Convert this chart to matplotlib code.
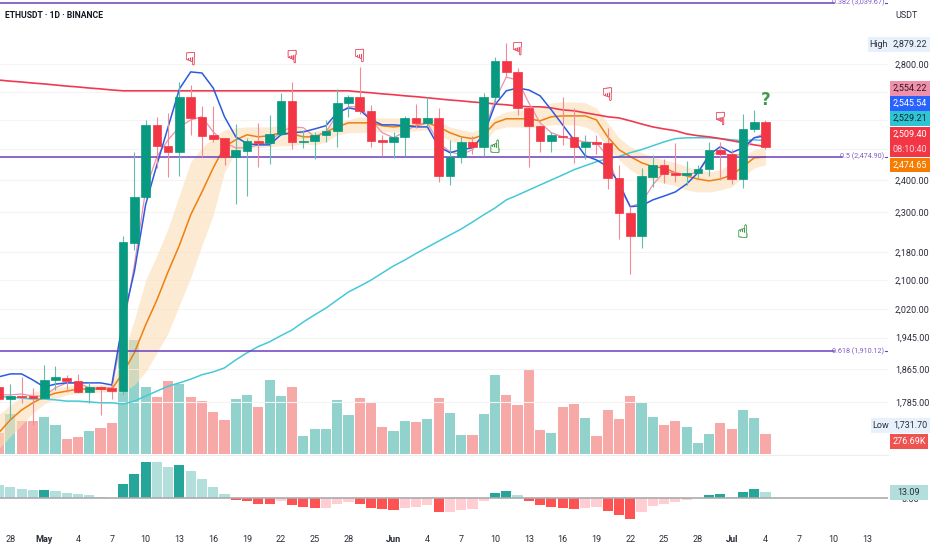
import matplotlib
matplotlib.use('Agg')
import matplotlib.pyplot as plt
import matplotlib.dates as mdates
import matplotlib.patheffects as pe
from matplotlib.patches import Rectangle
import numpy as np
import pandas as pd

plt.rcParams['font.family'] = ['Liberation Sans Narrow', 'Roboto', 'DejaVu Sans']

dates = pd.date_range('2025-04-27', periods=69)

opens = [1821, 1792, 1799, 1799,
         1794, 1838, 1843, 1836, 1809, 1821, 1819, 1811, 2206, 2346, 2583, 2512, 2492, 2682, 2611, 2549, 2539, 2476, 2495, 2529, 2522, 2552, 2667, 2525, 2529, 2549, 2563, 2660, 2682, 2632, 2532,
         2525, 2542, 2607, 2590, 2607, 2413, 2476, 2525, 2509, 2682, 2812, 2772, 2642, 2580, 2529, 2546, 2542, 2509, 2525, 2522, 2406, 2297, 2227, 2410, 2449, 2423, 2416, 2423, 2436, 2499,
         2485, 2403, 2569, 2593]
highs = [1838, 1828, 1846, 1819,
         1876, 1873, 1851, 1853, 1833, 1823, 1831, 2227, 2492, 2600, 2611, 2625, 2735, 2724, 2649, 2649, 2539, 2586, 2539, 2590, 2618, 2696, 2735, 2566, 2559, 2600, 2710, 2689, 2790, 2653, 2549,
         2559, 2614, 2656, 2682, 2642, 2532, 2542, 2546, 2696, 2828, 2879.22, 2786, 2646, 2582, 2559, 2682, 2642, 2549, 2549, 2573, 2449, 2319, 2439, 2482, 2469, 2522, 2462, 2449, 2525, 2525,
         2502, 2621, 2635, 2600]
lows = [1778, 1743, 1783, 1731.70,
        1794, 1814, 1809, 1806, 1783, 1755, 1792, 1805, 2185, 2340, 2439, 2410, 2413, 2549, 2476, 2525, 2449, 2325, 2349, 2443, 2452, 2549, 2502, 2505, 2469, 2525, 2509, 2611, 2621, 2509, 2479,
        2472, 2479, 2573, 2580, 2394, 2384, 2456, 2485, 2479, 2660, 2753, 2618, 2443, 2492, 2492, 2515, 2456, 2469, 2485, 2371, 2218, 2116, 2191, 2378, 2390, 2394, 2384, 2406, 2413, 2400,
        2387, 2374, 2559, 2502]
closes = [1792, 1799, 1797, 1794,
          1838, 1846, 1836, 1809, 1821, 1816, 1811, 2209, 2346, 2583, 2512, 2492, 2682, 2607, 2546, 2536, 2476, 2499, 2529, 2522, 2552, 2667, 2525, 2529, 2549, 2563, 2660, 2682, 2632, 2529, 2525,
          2542, 2607, 2590, 2607, 2413, 2476, 2525, 2509, 2682, 2812, 2772, 2642, 2580, 2529, 2549, 2542, 2509, 2525, 2519, 2406, 2297, 2227, 2413, 2449, 2419, 2416, 2423, 2436, 2499, 2485,
          2403, 2569, 2593, 2509.40]

# moyennes
ma_blue = [1846, 1853, 1853, 1838,
           1821, 1828, 1831, 1831, 1831, 1831, 1826, 1991, 2124, 2322, 2449, 2576, 2710, 2772, 2768, 2713, 2611, 2542, 2519, 2515, 2515, 2549, 2556, 2559, 2569, 2580, 2625, 2642, 2635, 2600, 2583,
           2583, 2580, 2576, 2576, 2509, 2489, 2499, 2505, 2549, 2653, 2703, 2713, 2706, 2685, 2635, 2583, 2532, 2479, 2465, 2443, 2390, 2316, 2319, 2337, 2349, 2362, 2387, 2423, 2482, 2509,
           2489, 2505, 2539, 2545.54]
ma_pink = [1802, 1802, 1804, 1799,
           1799, 1819, 1831, 1831, 1819, 1819, 1819, 1965, 2142, 2368, 2476, 2532, 2576, 2600, 2611, 2559, 2522, 2505, 2505, 2515, 2525, 2559, 2576, 2573, 2542, 2559, 2618, 2646, 2646, 2600, 2556,
           2539, 2559, 2583, 2590, 2522, 2492, 2482, 2499, 2556, 2670, 2753, 2742, 2660, 2590, 2556, 2542, 2532, 2525, 2522, 2476, 2378, 2316, 2328, 2384, 2426, 2423, 2416, 2426, 2472, 2499,
           2472, 2489, 2539, 2554.22]
ma_orange = [1714, 1743, 1766, 1783,
             1797, 1806, 1811, 1816, 1816, 1816, 1816, 1856, 1906, 1978, 2045, 2124, 2200, 2291, 2362, 2439, 2509, 2532, 2549, 2542, 2546, 2556, 2552, 2542, 2542, 2559, 2576, 2590, 2590, 2590, 2580,
             2576, 2580, 2580, 2590, 2576, 2556, 2542, 2536, 2549, 2590, 2604, 2604, 2604, 2597, 2611, 2614, 2614, 2614, 2600, 2542, 2499, 2476, 2456, 2443, 2439, 2423, 2413, 2403, 2397, 2403,
             2416, 2443, 2472, 2474.65]
ma_cyan = [1797, 1797, 1794, 1792,
           1792, 1790, 1787, 1787, 1785, 1783, 1783, 1780, 1787, 1799, 1811, 1823, 1831, 1840, 1851, 1858, 1868, 1888, 1906, 1922, 1934, 1950, 1965, 1986, 2005, 2023, 2045, 2067, 2083, 2100, 2120,
           2140, 2157, 2176, 2194, 2212, 2230, 2248, 2269, 2291, 2312, 2337, 2352, 2368, 2384, 2400, 2416, 2433, 2446, 2459, 2469, 2476, 2489, 2499, 2512, 2525, 2536, 2539, 2539, 2539, 2536,
           2532, 2529, 2532, 2529.21]
ma_red = [2742, 2738, 2735, 2731,
          2728, 2724, 2720, 2717, 2713, 2710, 2706, 2703, 2703, 2703, 2703, 2703, 2703, 2703, 2703, 2703, 2703, 2703, 2703, 2703, 2703, 2703, 2703, 2703, 2703, 2703, 2703, 2703, 2699, 2696, 2692,
          2689, 2685, 2682, 2678, 2674, 2670, 2667, 2663, 2660, 2656, 2653, 2649, 2646, 2646, 2642, 2635, 2632, 2625, 2618, 2611, 2607, 2597, 2586, 2576, 2569, 2563, 2552, 2546, 2542, 2536,
          2529, 2522, 2515, 2509.40]
band_hi = [1755, 1778, 1797, 1809,
           1814, 1819, 1823, 1826, 1826, 1826, 1828, 1901, 1991, 2100, 2170, 2251, 2352, 2459, 2505, 2539, 2566, 2573, 2576, 2576, 2576, 2583, 2583, 2566, 2559, 2573, 2593, 2600, 2611, 2607, 2607,
           2607, 2607, 2607, 2611, 2593, 2576, 2566, 2559, 2576, 2611, 2628, 2635, 2635, 2646, 2660, 2663, 2663, 2660, 2642, 2590, 2539, 2509, 2489, 2476, 2465, 2456, 2443, 2433, 2426, 2433,
           2456, 2476, 2499, 2505]
band_lo = [1678, 1705, 1731, 1759,
           1780, 1794, 1802, 1806, 1806, 1809, 1809, 1809, 1826, 1858, 1906, 1957, 2031, 2107, 2200, 2291, 2426, 2492, 2505, 2505, 2509, 2512, 2512, 2519, 2515, 2525, 2549, 2556, 2556, 2559, 2559,
           2559, 2559, 2563, 2566, 2549, 2529, 2515, 2509, 2522, 2566, 2576, 2576, 2573, 2576, 2583, 2583, 2583, 2576, 2556, 2509, 2465, 2433, 2410, 2400, 2390, 2381, 2368, 2362, 2362, 2368,
           2378, 2410, 2439, 2449]

volumes = [294, 565, 460, 460,
           520, 400, 210, 240, 325, 370, 440, 1450, 1590, 935, 795, 1025, 985, 795, 745, 585, 480, 775, 825, 655, 1040, 815, 935, 250, 350, 350, 760, 540, 785, 735, 380,
           320, 460, 450, 490, 790, 575, 265, 265, 565, 1105, 830, 690, 1170, 330, 295, 665, 705, 505, 255, 620, 490, 815, 725, 515, 410, 460, 375, 160, 285, 440,
           345, 620, 505, 276.69]
hist = [28, 25, 20, 17,
        17, 15, 12, 8, 6, 2, 1, 31, 53, 79, 78, 68, 71, 60, 41, 25, 8, -3.6, -7, -12, -14, -6, -15, -20, -22, -21, -14, -9, -12, -21, -25,
        -27, -21, -20, -16, -31, -31, -27, -23, -7, 12, 16, 6, -7, -16, -20, -21, -23, -21, -19, -28, -37, -46, -30, -18, -12, -8, -4, -1, 6, 8,
        2, 13, 19, 13.09]

price_ticks = [2800, 2700, 2600, 2500, 2400, 2300, 2180, 2100, 2020, 1945, 1865, 1785]
hidden_ticks = [2700, 2600, 2500]  # sous les etiquettes colorees
tick_dates = ['2025-04-28', '2025-05-01', '2025-05-04', '2025-05-07', '2025-05-10', '2025-05-13', '2025-05-16',
              '2025-05-19', '2025-05-22', '2025-05-25', '2025-05-28', '2025-06-01', '2025-06-04', '2025-06-07',
              '2025-06-10', '2025-06-13', '2025-06-16', '2025-06-19', '2025-06-22', '2025-06-25', '2025-06-28',
              '2025-07-01', '2025-07-04', '2025-07-07', '2025-07-10', '2025-07-13']
tick_labels = ['28', 'May', '4', '7', '10', '13', '16', '19', '22', '25', '28', 'Jun', '4', '7', '10', '13', '16',
               '19', '22', '25', '28', 'Jul', '4', '7', '10', '13']

fib_levels = [3039.67, 2474.90, 1910.12]
fib_names = ['0.382 (3,039.67)', '0.5 (2,474.90)', '0.618 (1,910.12)']

sell_days = ['2025-05-14', '2025-05-23', '2025-05-29', '2025-06-12', '2025-06-20', '2025-06-30']
sell_prices = [2816, 2824, 2828, 2854, 2686, 2600]
buy_days = ['2025-06-10', '2025-07-02']
buy_prices = [2505, 2237]

W, H = 932, 550
PANE_W = 888
FS = 6.5
fig = plt.figure(figsize=(W / 100, H / 100), dpi=100, facecolor='white')


def pane(top, bottom):
    return fig.add_axes([0, 1 - bottom / H, PANE_W / W, (bottom - top) / H])


def fig_x(px):
    return px / W


def fig_y(px):
    return 1 - px / H


x = mdates.date2num(dates)
opens, highs, lows, closes = map(np.array, (opens, highs, lows, closes))
up = closes >= opens
xmin, xmax = x[0] + 0.08, x[0] + 78.87

GREEN, RED = '#089981', '#F23645'
TEXT = '#2a2e39'
PURPLE = '#6B3FBF'

# volume
ax_vol = pane(340, 454)
ax_vol.set_zorder(1)
ax_vol.bar(x, volumes, width=0.9, color=np.where(up, '#92D2CC', '#F7A9A7'))
ax_vol.set_ylim(0, 1596)
ax_vol.set_xlim(xmin, xmax)
ax_vol.axis('off')

# prix
ax = pane(0, 520)
ax.set_zorder(2)
ax.patch.set_alpha(0)
ax.set_yscale('log')
ax.set_ylim(1525, 3051)
ax.set_xlim(xmin, xmax)
ax.fill_between(x, band_lo, band_hi, color='#FBDDB5', alpha=0.6, lw=0, zorder=1)
for level in price_ticks:
    ax.axhline(level, color='#f4f4f4', lw=0.8, zorder=0)
ax.plot(x, ma_cyan, color='#45C9D6', lw=1.1, zorder=2)
ax.plot(x, ma_red, color='#EE3A50', lw=1.2, zorder=2)
ax.plot(x, ma_orange, color='#EF7F0F', lw=1.1, zorder=2)
ax.plot(x, ma_pink, color='#EE8FA8', lw=0.9, zorder=2)
ax.plot(x, ma_blue, color='#2A5BE0', lw=1.1, zorder=2)

ends = [834, 842, 834]
for level, name, end in zip(fib_levels, fib_names, ends):
    ax.plot([xmin, xmin + end / 11.27], [level, level], color=PURPLE, lw=1.1, zorder=3)
    ax.text(xmin + 884 / 11.27, level, name, color='#7E5CC8', fontsize=5.2, ha='right', va='center', zorder=3)
    ax.plot([xmin + 885 / 11.27, xmin + 888 / 11.27], [level, level], color=PURPLE, lw=0.8, zorder=3)

ax.vlines(x[up], lows[up], highs[up], color='#62BDAB', lw=0.8, zorder=4)
ax.vlines(x[~up], lows[~up], highs[~up], color='#F28A95', lw=0.8, zorder=4)
ax.bar(x, np.abs(closes - opens), bottom=np.minimum(opens, closes), width=0.77,
       color=np.where(up, GREEN, RED), edgecolor=np.where(up, GREEN, RED), lw=0.5, zorder=5)

thin_red = [pe.withStroke(linewidth=0.2, foreground='#E8455A')]
thin_green = [pe.withStroke(linewidth=0.2, foreground='#3E9B47')]
for day, price in zip(sell_days, sell_prices):
    ax.text(mdates.date2num(pd.Timestamp(day)), price, '\u261f', family='DejaVu Sans', color='#E8455A',
            fontsize=13, ha='center', va='center', zorder=6, path_effects=thin_red)
for day, price in zip(buy_days, buy_prices):
    ax.text(mdates.date2num(pd.Timestamp(day)), price, '\u261d', family='DejaVu Sans', color='#3E9B47',
            fontsize=13, ha='center', va='center', zorder=6, path_effects=thin_green)
ax.text(x[-1], 2670, '?', color='#3E9B47', fontsize=12, fontweight='bold', family='DejaVu Sans',
        ha='center', va='center', zorder=6)

ax.yaxis.tick_right()
ax.set_yticks(price_ticks)
ax.set_yticklabels(['' if p in hidden_ticks else f'{p:,.2f}' for p in price_ticks])
ax.yaxis.set_minor_locator(matplotlib.ticker.NullLocator())
ax.tick_params(axis='y', length=0, pad=5, labelsize=FS, labelcolor=TEXT)
ax.set_xticks([])
for side in ax.spines.values():
    side.set_visible(False)

# histogramme
ax_hist = pane(460, 520)
ax_hist.set_zorder(1)
hist_arr = np.array(hist)
prev = np.r_[np.inf, hist_arr[:-1]]
hist_colors = []
for val, before in zip(hist_arr, prev):
    if val >= 0:
        hist_colors.append('#26A69A' if val >= before else '#B2DFDB')
    else:
        hist_colors.append('#FF5252' if val < before else '#FFCDD2')
ax_hist.bar(x, hist, width=0.9, color=hist_colors)
ax_hist.axhline(0, color='#A9ABAE', lw=1.2)
ax_hist.set_ylim(-48, 83)
ax_hist.set_xlim(xmin, xmax)
ax_hist.set_yticks([])
ax_hist.set_xticks(mdates.date2num(pd.to_datetime(tick_dates)))
ax_hist.set_xticklabels(tick_labels)
ax_hist.tick_params(axis='x', length=0, pad=11, labelsize=FS, labelcolor=TEXT)
for lab in ax_hist.get_xticklabels():
    if lab.get_text() in ('May', 'Jun', 'Jul'):
        lab.set_fontweight('bold')
for side in ax_hist.spines.values():
    side.set_visible(False)
ax_hist.patch.set_alpha(0)

# ligne du bas du volume
fig.add_artist(plt.Line2D([0, PANE_W / W], [fig_y(454.5)] * 2, color='#eeeeee', lw=0.8))


def tag(top, bottom, left, right, color, label, label_color):
    fig.add_artist(Rectangle((fig_x(left), fig_y(bottom)), (right - left) / W, (bottom - top) / H,
                             transform=fig.transFigure, facecolor=color, edgecolor='none', zorder=5))
    fig.text(fig_x((left + right) / 2), fig_y((top + bottom) / 2), label, color=label_color, fontsize=FS,
             ha='center', va='center', zorder=6)


fig.text(fig_x(910), fig_y(500), '0.00', color=TEXT, fontsize=FS, ha='center', va='center', zorder=3)
tag(37, 52, 890, 930, '#E8F1FB', '2,879.22', TEXT)
tag(37, 52, 868, 890, '#E8F1FB', 'High', TEXT)
tag(81, 96, 890, 930, '#EE91AC', '2,554.22', '#3b1020')
tag(96, 111, 890, 930, '#2962FF', '2,545.54', 'white')
tag(111, 126, 890, 930, '#2FC4D3', '2,529.21', '#0c2a30')
tag(127, 142, 890, 930, '#F23645', '2,509.40', 'white')
tag(142, 157, 890, 930, '#F23645', '08:10:40', '#FFD5D9')
tag(158, 172, 890, 930, '#F57C00', '2,474.65', 'white')
tag(418, 433, 890, 930, '#E8F1FB', '1,731.70', TEXT)
tag(418, 433, 871, 890, '#E8F1FB', 'Low', TEXT)
tag(434, 449, 890, 928, '#EF5350', '276.69K', 'white')
tag(485, 500, 890, 928, '#B2DFDB', '13.09', TEXT)

fig.text(fig_x(907), fig_y(15), 'USDT', color=TEXT, fontsize=FS, ha='center', va='center')
fig.text(fig_x(5), fig_y(15), 'ETHUSDT \u00b7 1D \u00b7 BINANCE', color='#131722', fontsize=6.2,
         fontweight='bold', ha='left', va='center', zorder=6)

fig.savefig('out.png', dpi=100)
